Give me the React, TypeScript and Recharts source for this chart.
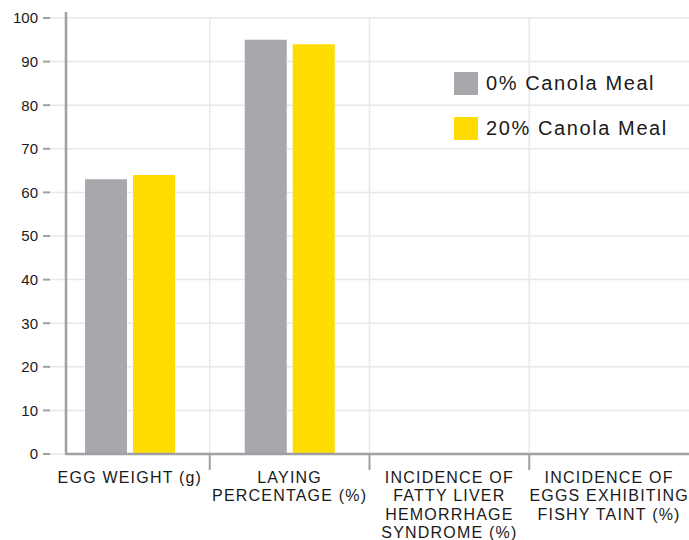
import {
  BarChart,
  Bar,
  XAxis,
  YAxis,
  CartesianGrid,
  ReferenceLine,
} from 'recharts';

const categories = [
  'EGG WEIGHT (g)',
  'LAYING\nPERCENTAGE (%)',
  'INCIDENCE OF\nFATTY LIVER\nHEMORRHAGE\nSYNDROME (%)',
  'INCIDENCE OF\nEGGS EXHIBITING\nFISHY TAINT (%)',
];
const canola0 = [63, 95, 0, 0];
const canola20 = [64, 94, 0, 0];
const seriesNames = ['0% Canola Meal', '20% Canola Meal'];
const yTicks = [0, 10, 20, 30, 40, 50, 60, 70, 80, 90, 100];

const GRAY = '#a7a8ab';
const YELLOW = '#ffdc00';
const AXIS = '#a0a0a4';
const GRID = '#e8e8e8';
const FONT = '"Liberation Sans", Arial, sans-serif';
const AXIS_INSET = 16; // y axis line sits a bit right of the grid start

const data = categories.map((name, i) => ({
  name,
  c0: canola0[i],
  c20: canola20[i],
}));

function CategoryTick(props: any) {
  const { x, y, payload } = props;
  const lines = String(payload.value).split('\n');
  return (
    <text
      x={x}
      y={y}
      textAnchor="middle"
      fill="#1a1a1a"
      fontFamily={FONT}
      fontSize={16}
      letterSpacing={1.2}
    >
      {lines.map((l, i) => (
        <tspan key={i} x={x} dy={i === 0 ? 20.5 : 18.5}>
          {l}
        </tspan>
      ))}
    </text>
  );
}

// vertical line at a band boundary: light grid above the axis, dark tick below
function BoundaryLine(props: any) {
  const { x1, y1, y2 } = props;
  const top = Math.min(y1, y2);
  const bottom = Math.max(y1, y2);
  return (
    <g>
      <line x1={x1} x2={x1} y1={top} y2={bottom} stroke={GRID} strokeWidth={1.5} />
      <line x1={x1} x2={x1} y1={bottom} y2={bottom + 16} stroke={AXIS} strokeWidth={2} />
    </g>
  );
}

function YAxisLine(props: any) {
  const { x1, y1, y2 } = props;
  const top = Math.min(y1, y2);
  const bottom = Math.max(y1, y2);
  const x = x1 + AXIS_INSET;
  return <line x1={x} x2={x} y1={top - 6} y2={bottom + 1} stroke={AXIS} strokeWidth={2.5} />;
}

function XAxisLine(props: any) {
  const { x1, x2, y1 } = props;
  const left = Math.min(x1, x2) + AXIS_INSET;
  const right = Math.max(x1, x2);
  return <line x1={left} x2={right} y1={y1} y2={y1} stroke={AXIS} strokeWidth={2.5} />;
}

function LegendBox() {
  const colors = [GRAY, YELLOW];
  return (
    <div style={{ position: 'absolute', left: 454, top: 72, fontFamily: FONT }}>
      {seriesNames.map((n, i) => (
        <div
          key={n}
          style={{ display: 'flex', alignItems: 'center', height: 23, marginBottom: 22 }}
        >
          <div style={{ width: 24, height: 23, background: colors[i], marginRight: 8 }} />
          <span style={{ fontSize: 20, letterSpacing: 1.6, color: '#1a1a1a' }}>{n}</span>
        </div>
      ))}
    </div>
  );
}

export default function App() {
  return (
    <div style={{ position: 'relative', width: 689, height: 540 }}>
      <style>{`body{margin:0}`}</style>
      <BarChart
        width={689}
        height={540}
        data={data}
        margin={{ top: 18, right: 0, left: 8, bottom: 0 }}
        barSize={42}
        barGap={6}
      >
        <CartesianGrid vertical={false} stroke={GRID} strokeWidth={1.5} />
        <XAxis
          dataKey="name"
          height={86}
          axisLine={false}
          tickLine={false}
          interval={0}
          tick={<CategoryTick />}
        />
        <YAxis
          domain={[0, 100]}
          ticks={yTicks}
          width={42}
          axisLine={false}
          tickSize={7}
          tickMargin={5}
          tickLine={{ stroke: AXIS, strokeWidth: 2 }}
          tick={{ fill: '#1a1a1a', fontSize: 15, fontFamily: FONT }}
        />
        {categories.slice(1).map((c) => (
          <ReferenceLine
            key={c}
            x={c}
            position="start"
            ifOverflow="visible"
            shape={<BoundaryLine />}
          />
        ))}
        <Bar dataKey="c0" name={seriesNames[0]} fill={GRAY} isAnimationActive={false} />
        <Bar dataKey="c20" name={seriesNames[1]} fill={YELLOW} isAnimationActive={false} />
        <ReferenceLine y={0} ifOverflow="visible" shape={<XAxisLine />} />
        <ReferenceLine
          x={categories[0]}
          position="start"
          ifOverflow="visible"
          shape={<YAxisLine />}
        />
      </BarChart>
      <LegendBox />
    </div>
  );
}
